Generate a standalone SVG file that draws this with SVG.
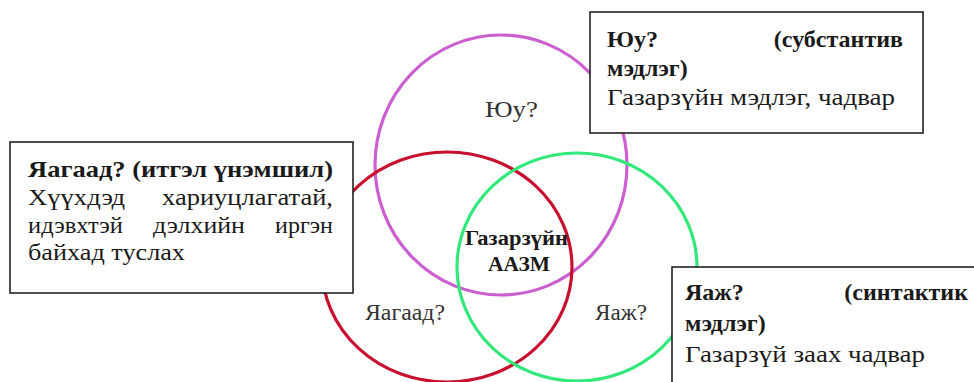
<svg xmlns="http://www.w3.org/2000/svg" width="974" height="382" viewBox="0 0 974 382">
<style>
.box{fill:#fff;stroke:#222;stroke-width:1.6}
.ring{fill:none;stroke-width:3.2}
.t{font-family:'Liberation Serif','Times New Roman',serif;fill:#1a1a1a}
.lbl{font-family:'Liberation Serif','Times New Roman',serif;fill:#333;font-size:23px}
.b{font-weight:bold}
.s23{font-size:23px}
.s24{font-size:24px}
</style>
<rect width="974" height="382" fill="#fff"/>
<g id="connectors"></g>
<g id="circle-yuu"><ellipse class="ring" cx="501" cy="165" rx="126" ry="130" stroke="#cc5fcf"/></g>
<g id="circle-yagaad"><ellipse class="ring" cx="447" cy="267" rx="125" ry="115" stroke="#c8102e"/></g>
<g id="circle-yaaj"><ellipse class="ring" cx="577" cy="267" rx="120" ry="114" stroke="#33e87a"/></g>
<g id="labels">
<text class="lbl" x="485" y="117" textLength="53" lengthAdjust="spacingAndGlyphs">Юу?</text>
<text class="lbl" x="365" y="320" textLength="80" lengthAdjust="spacingAndGlyphs">Яагаад?</text>
<text class="lbl" x="595" y="320" textLength="52" lengthAdjust="spacingAndGlyphs">Яаж?</text>
<text class="t b" font-size="20" x="465" y="245" textLength="103" lengthAdjust="spacingAndGlyphs">Газарзүйн</text>
<text class="t b" font-size="20" x="488" y="271" textLength="62" lengthAdjust="spacingAndGlyphs">ААЗМ</text>
</g>
<g id="box-yagaad">
<rect class="box" x="10" y="142" width="343" height="151"/>
<text class="t b s23" x="28" y="177" textLength="305" lengthAdjust="spacingAndGlyphs">Яагаад? (итгэл үнэмшил)</text>
<text class="t s23" x="28" y="205" textLength="97" lengthAdjust="spacingAndGlyphs">Хүүхдэд</text>
<text class="t s23" x="162" y="205" textLength="171" lengthAdjust="spacingAndGlyphs">хариуцлагатай,</text>
<text class="t s23" x="28" y="233" textLength="95" lengthAdjust="spacingAndGlyphs">идэвхтэй</text>
<text class="t s23" x="153" y="233" textLength="92" lengthAdjust="spacingAndGlyphs">дэлхийн</text>
<text class="t s23" x="275" y="233" textLength="58" lengthAdjust="spacingAndGlyphs">иргэн</text>
<text class="t s23" x="28" y="260" textLength="157" lengthAdjust="spacingAndGlyphs">байхад туслах</text>
</g>
<g id="box-yuu">
<rect class="box" x="590" y="12" width="333" height="121"/>
<text class="t b s24" x="607" y="47">Юу?</text>
<text class="t b s24" x="903" y="47" text-anchor="end">(субстантив</text>
<text class="t b s24" x="607" y="76">мэдлэг)</text>
<text class="t s24" x="607" y="105" textLength="288" lengthAdjust="spacingAndGlyphs">Газарзүйн мэдлэг, чадвар</text>
</g>
<g id="box-yaaj">
<rect class="box" x="672" y="267" width="320" height="130"/>
<text class="t b s24" x="685" y="300">Яаж?</text>
<text class="t b s24" x="968" y="300" text-anchor="end">(синтактик</text>
<text class="t b s24" x="685" y="331">мэдлэг)</text>
<text class="t s24" x="685" y="362" textLength="240" lengthAdjust="spacingAndGlyphs">Газарзүй заах чадвар</text>
</g>
</svg>
